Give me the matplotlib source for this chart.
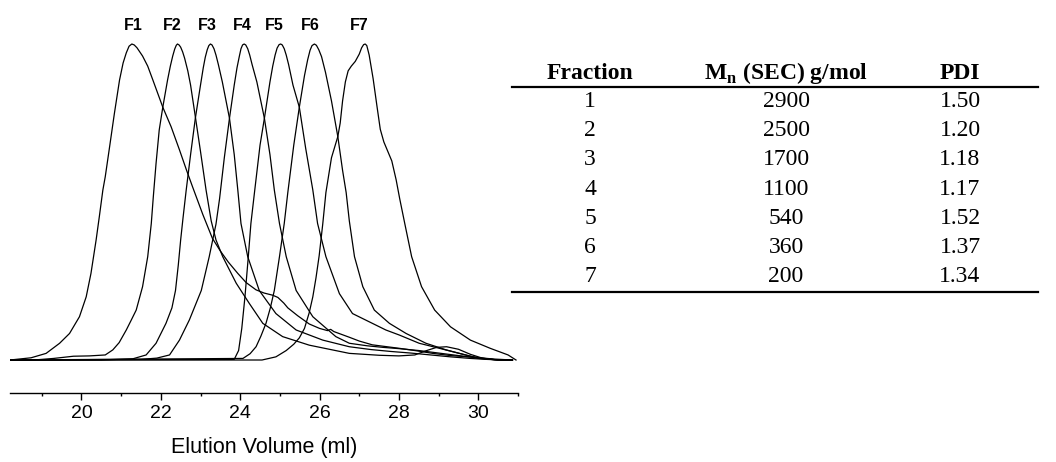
import matplotlib
matplotlib.use("Agg")
import matplotlib.pyplot as plt
from matplotlib.lines import Line2D

plt.rcParams["font.family"] = ["Liberation Sans", "DejaVu Sans"]
plt.rcParams["mathtext.fontset"] = "custom"
plt.rcParams["mathtext.rm"] = "Liberation Serif"
plt.rcParams["mathtext.bf"] = "Liberation Serif:bold"

# ---- SEC traces (elution volume in ml, normalised RI signal) ----
f1_ml = [18.20, 18.73, 19.11, 19.45, 19.70, 19.95, 20.12, 20.24, 20.37, 20.45, 20.54, 20.60,
         20.71, 20.83, 20.96, 21.05, 21.13, 21.20, 21.27, 21.33, 21.40, 21.54, 21.67, 21.80,
         22.05, 22.26, 22.47, 22.65, 22.80, 23.06, 23.30, 23.50, 23.70, 23.94, 24.15, 24.40,
         24.60, 24.82, 24.95, 25.10, 25.20, 25.45, 25.74, 26.00, 26.20, 26.28, 26.36, 26.75,
         27.00, 27.33, 27.70, 28.01, 28.40, 28.85, 29.30, 29.86, 30.40, 30.86]
f1_sig = [0.0, 0.007, 0.021, 0.053, 0.084, 0.137, 0.20, 0.274, 0.38, 0.453, 0.538, 0.58,
          0.675, 0.78, 0.886, 0.94, 0.972, 0.993, 1.0, 0.997, 0.988, 0.962, 0.93, 0.886,
          0.80, 0.738, 0.665, 0.60, 0.548, 0.46, 0.385, 0.345, 0.31, 0.274, 0.245, 0.222,
          0.212, 0.205, 0.198, 0.180, 0.165, 0.140, 0.114, 0.100, 0.093, 0.097, 0.090, 0.072,
          0.060, 0.048, 0.042, 0.037, 0.030, 0.021, 0.014, 0.009, 0.003, 0.0]

f2_ml = [18.20, 18.80, 19.30, 19.80, 20.20, 20.60, 20.79, 20.95, 21.13, 21.25, 21.38, 21.54,
         21.67, 21.76, 21.81, 21.88, 21.96, 22.05, 22.17, 22.24, 22.30, 22.35, 22.39, 22.42,
         22.46, 22.50, 22.55, 22.60, 22.68, 22.75, 22.87, 23.00, 23.14, 23.27, 23.39, 23.56,
         23.90, 24.23, 24.57, 25.07, 25.74, 26.75, 27.50, 28.00, 28.40, 28.70, 28.95, 29.20,
         29.50, 29.80, 30.10, 30.50, 30.86]
f2_sig = [0.0, 0.0, 0.005, 0.012, 0.013, 0.016, 0.032, 0.055, 0.095, 0.125, 0.158, 0.232,
          0.327, 0.432, 0.515, 0.622, 0.728, 0.80, 0.886, 0.93, 0.962, 0.984, 0.996, 1.0,
          0.997, 0.99, 0.975, 0.955, 0.915, 0.87, 0.77, 0.66, 0.538, 0.44, 0.38, 0.327,
          0.243, 0.179, 0.116, 0.074, 0.047, 0.021, 0.015, 0.013, 0.016, 0.030, 0.040, 0.042,
          0.034, 0.018, 0.006, 0.0, 0.0]

f3_ml = [18.20, 20.50, 21.30, 21.63, 21.88, 22.13, 22.28, 22.37, 22.44, 22.50, 22.56, 22.64,
         22.75, 22.87, 23.00, 23.07, 23.12, 23.17, 23.21, 23.25, 23.29, 23.34, 23.39, 23.45,
         23.55, 23.73, 23.85, 23.94, 24.02, 24.19, 24.48, 24.90, 25.41, 26.08, 26.75, 27.30,
         27.80, 28.30, 28.80, 29.30, 29.80, 30.20, 30.60, 30.86]
f3_sig = [0.0, 0.0, 0.004, 0.016, 0.053, 0.116, 0.165, 0.22, 0.30, 0.38, 0.45, 0.538,
          0.65, 0.765, 0.87, 0.925, 0.958, 0.982, 0.995, 1.0, 0.997, 0.985, 0.965, 0.935,
          0.88, 0.765, 0.65, 0.538, 0.432, 0.327, 0.22, 0.147, 0.095, 0.063, 0.042, 0.033,
          0.027, 0.022, 0.016, 0.010, 0.005, 0.002, 0.0, 0.0]

f4_ml = [18.20, 21.50, 21.90, 22.22, 22.47, 22.72, 23.02, 23.22, 23.39, 23.48, 23.60, 23.73,
         23.85, 23.92, 23.98, 24.02, 24.06, 24.10, 24.14, 24.19, 24.24, 24.30, 24.42, 24.61,
         24.75, 24.86, 24.99, 25.16, 25.41, 25.83, 26.41, 26.75, 27.20, 27.60, 28.00, 28.50,
         29.00, 29.50, 30.00, 30.50, 30.86]
f4_sig = [0.0, 0.002, 0.006, 0.016, 0.063, 0.127, 0.22, 0.327, 0.43, 0.51, 0.64, 0.765,
          0.87, 0.925, 0.962, 0.985, 0.997, 1.0, 0.997, 0.985, 0.965, 0.935, 0.88, 0.765,
          0.65, 0.538, 0.432, 0.327, 0.22, 0.137, 0.074, 0.053, 0.045, 0.040, 0.036, 0.030,
          0.022, 0.014, 0.006, 0.0, 0.0]

f5_ml = [18.20, 23.85, 23.96, 24.04, 24.12, 24.20, 24.27, 24.36, 24.50, 24.61, 24.75, 24.82,
         24.88, 24.93, 24.98, 25.02, 25.06, 25.11, 25.16, 25.22, 25.33, 25.49, 25.65, 25.83,
         25.95, 26.16, 26.50, 26.83, 27.25, 27.67, 28.01, 28.51, 29.02, 29.52, 30.03, 30.50,
         30.86]
f5_sig = [0.0, 0.002, 0.03, 0.10, 0.20, 0.32, 0.432, 0.53, 0.68, 0.765, 0.88, 0.93,
          0.965, 0.987, 0.998, 1.0, 0.997, 0.985, 0.965, 0.935, 0.87, 0.80, 0.67, 0.538,
          0.432, 0.327, 0.21, 0.147, 0.121, 0.095, 0.079, 0.053, 0.037, 0.021, 0.005, 0.0,
          0.0]

f6_ml = [18.20, 24.07, 24.25, 24.40, 24.52, 24.65, 24.76, 24.86, 24.99, 25.11, 25.20, 25.35,
         25.49, 25.62, 25.70, 25.76, 25.81, 25.87, 25.92, 25.98, 26.05, 26.15, 26.30, 26.46,
         26.58, 26.67, 26.75, 26.88, 27.09, 27.38, 27.76, 28.18, 28.68, 29.19, 29.86, 30.30,
         30.60, 30.86]
f6_sig = [0.0, 0.005, 0.02, 0.042, 0.075, 0.116, 0.165, 0.22, 0.327, 0.432, 0.53, 0.68,
          0.80, 0.90, 0.95, 0.98, 0.995, 1.0, 0.996, 0.982, 0.96, 0.91, 0.82, 0.707,
          0.60, 0.53, 0.44, 0.327, 0.232, 0.158, 0.116, 0.084, 0.053, 0.032, 0.010, 0.002,
          0.0, 0.0]

f7_ml = [18.20, 24.55, 24.90, 25.16, 25.35, 25.49, 25.62, 25.74, 25.83, 25.91, 25.99, 26.08,
         26.16, 26.30, 26.46, 26.52, 26.58, 26.65, 26.72, 26.80, 26.90, 27.00, 27.06, 27.11,
         27.15, 27.19, 27.25, 27.35, 27.45, 27.53, 27.62, 27.72, 27.82, 27.93, 28.02, 28.15,
         28.32, 28.57, 28.90, 29.30, 29.80, 30.30, 30.75, 30.95]
f7_sig = [0.0, 0.0, 0.01, 0.03, 0.05, 0.07, 0.10, 0.15, 0.20, 0.26, 0.33, 0.43,
          0.53, 0.64, 0.707, 0.75, 0.82, 0.88, 0.915, 0.93, 0.945, 0.968, 0.988, 0.998,
          1.0, 0.995, 0.965, 0.89, 0.80, 0.73, 0.69, 0.66, 0.63, 0.57, 0.51, 0.43,
          0.327, 0.232, 0.158, 0.105, 0.063, 0.037, 0.016, 0.0]

trace_ml = [f1_ml, f2_ml, f3_ml, f4_ml, f5_ml, f6_ml, f7_ml]
trace_sig = [f1_sig, f2_sig, f3_sig, f4_sig, f5_sig, f6_sig, f7_sig]

peak_labels = ["F1", "F2", "F3", "F4", "F5", "F6", "F7"]
peak_label_ml = [21.31, 22.30, 23.16, 24.06, 24.86, 25.76, 26.99]

# ---- fraction table ----
fraction_no = [1, 2, 3, 4, 5, 6, 7]
mn_sec = [2900, 2500, 1700, 1100, 540, 360, 200]
pdi = [1.50, 1.20, 1.18, 1.17, 1.52, 1.37, 1.34]
table_header = ["Fraction", r"M$_\mathbf{n}$ (SEC) g/mol", "PDI"]

W, H = 1056, 462
fig = plt.figure(figsize=(W / 100, H / 100), dpi=100)

ax = fig.add_axes([10 / W, (H - 393) / H, 508 / W, 383 / H])
for ml, sig in zip(trace_ml, trace_sig):
    ax.plot(ml, sig, color="black", lw=0.9, solid_joinstyle="round")

for lab, x in zip(peak_labels, peak_label_ml):
    ax.text(x, 1.059, lab, ha="center", va="center", fontsize=11.5, fontweight="bold")

ax.set_xlim(18.2, 31.0)
ax.set_ylim(-0.1044, 1.1076)
for side in ("left", "right", "top"):
    ax.spines[side].set_visible(False)
ax.spines["bottom"].set_linewidth(1.0)
ax.set_yticks([])
ax.set_xticks([20, 22, 24, 26, 28, 30])
ax.set_xticks([19, 21, 23, 25, 27, 29, 31], minor=True)
ax.tick_params(axis="x", which="major", direction="out", length=4.8, width=1.0,
               labelsize=14, pad=4)
ax.tick_params(axis="x", which="minor", direction="out", length=2.0, width=1.0)
ax.set_xlabel("Elution Volume (ml)", fontsize=15.5, labelpad=11)


def fx(px):
    return px / W


def fy(py):
    return 1 - py / H


tab_left, tab_right = 512, 1038
col_x = [590, 786, 960]
header_base = 79
top_rule, bottom_rule = 87, 292
row_base0, row_step = 107, 29.2
serif = ["Liberation Serif", "DejaVu Serif"]

for rule_y in (top_rule, bottom_rule):
    fig.add_artist(Line2D([fx(tab_left), fx(tab_right)], [fy(rule_y), fy(rule_y)],
                          color="black", lw=1.6, transform=fig.transFigure))

for cx, head in zip(col_x, table_header):
    fig.text(fx(cx), fy(header_base), head, ha="center", va="baseline",
             fontsize=17, fontweight="bold", family=serif)

for i, (fr, mn, p) in enumerate(zip(fraction_no, mn_sec, pdi)):
    yb = fy(row_base0 + i * row_step)
    for cx, s in zip(col_x, [str(fr), str(mn), f"{p:.2f}"]):
        fig.text(fx(cx), yb, s, ha="center", va="baseline", fontsize=17, family=serif)

fig.savefig("out.png", dpi=100)
